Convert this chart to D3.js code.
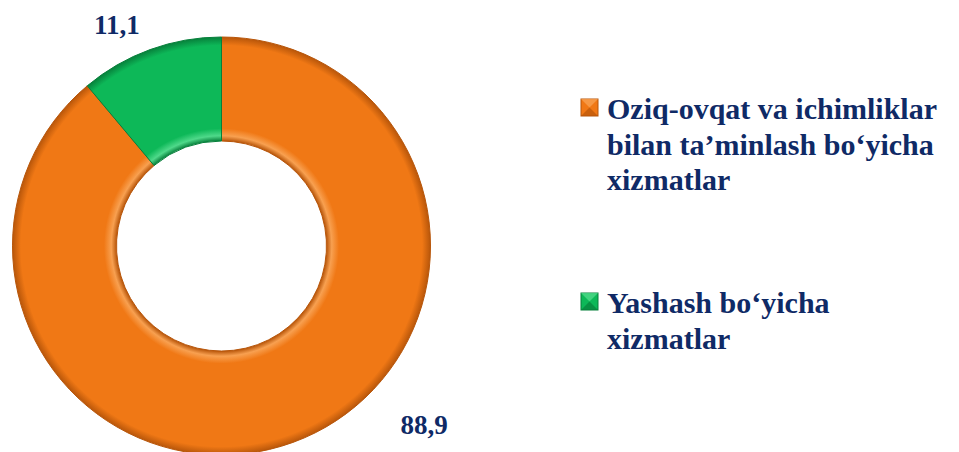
<!DOCTYPE html>
<html><head><meta charset="utf-8">
<script src="https://cdn.jsdelivr.net/npm/d3@7"></script>
</head><body style="margin:0">
<svg id="c" width="959" height="452"></svg>
<script>
const categories = ["Oziq-ovqat va ichimliklar bilan ta\u2019minlash bo\u2018yicha xizmatlar", "Yashash bo\u2018yicha xizmatlar"];
const values = [88.9, 11.1];
const valueLabels = ["88,9", "11,1"];
const legendLines = [["Oziq-ovqat va ichimliklar", "bilan ta\u2019minlash bo\u2018yicha", "xizmatlar"], ["Yashash bo\u2018yicha", "xizmatlar"]];
const colors = ["#F07815", "#0DB858"];
const darkColors = ["#B8560A", "#07803B"];
const lightColors = ["#F8A050", "#4FD98A"];

const svg = d3.select("#c");
const textColor = "#0F2A66";
const cx = 221.5, cy = 246, R = 209, r = 105;

const defs = svg.append("defs");
colors.forEach((c,i)=>{
  const gr = defs.append("radialGradient").attr("id","g"+i).attr("gradientUnits","userSpaceOnUse")
    .attr("cx",0).attr("cy",0).attr("r",R);
  const s = r/R;
  gr.append("stop").attr("offset",s).attr("stop-color",darkColors[i]);
  gr.append("stop").attr("offset",s+0.025).attr("stop-color",lightColors[i]);
  gr.append("stop").attr("offset",s+0.06).attr("stop-color",c);
  gr.append("stop").attr("offset",0.96).attr("stop-color",c);
  gr.append("stop").attr("offset",1).attr("stop-color",darkColors[i]);
});

const pie = d3.pie().sort(null).value(d=>d);
const arcs = pie(values);
const arc = d3.arc().innerRadius(r).outerRadius(R);
const g = svg.append("g").attr("transform",`translate(${cx},${cy})`);
g.selectAll("path").data(arcs).join("path")
  .attr("d",arc)
  .attr("fill",(d,i)=>`url(#g${i})`)
  .attr("stroke",(d,i)=>darkColors[i]).attr("stroke-width",1);

svg.selectAll("text.val").data(valueLabels).join("text").attr("class","val")
  .attr("x",(d,i)=>[424,117][i]).attr("y",(d,i)=>[434,33.5][i])
  .attr("text-anchor","middle")
  .attr("font-family","Liberation Serif").attr("font-weight","bold").attr("font-size",27)
  .attr("fill",textColor).text(d=>d);

const legendY = [119, 313];
const lineH = 35.5;
const lg = svg.selectAll("g.lg").data(categories).join("g").attr("class","lg");
lg.append("rect").attr("x",581).attr("y",(d,i)=>legendY[i]-20).attr("width",17).attr("height",17)
  .attr("fill",(d,i)=>colors[i]).attr("stroke",(d,i)=>darkColors[i]).attr("stroke-width",1);
lg.append("path").attr("d",(d,i)=>{const x=581,y=legendY[i]-20;return `M${x},${y}L${x+8.5},${y+8.5}L${x+17},${y}Z`;})
  .attr("fill",(d,i)=>lightColors[i]).attr("opacity",0.8);
lg.append("path").attr("d",(d,i)=>{const x=581,y=legendY[i]-20;return `M${x},${y+17}L${x+8.5},${y+8.5}L${x+17},${y+17}Z`;})
  .attr("fill",(d,i)=>darkColors[i]).attr("opacity",0.7);
lg.append("text").attr("x",607).attr("y",(d,i)=>legendY[i])
  .attr("font-family","Liberation Serif").attr("font-weight","bold").attr("font-size",30).attr("fill",textColor)
  .selectAll("tspan").data((d,i)=>legendLines[i]).join("tspan")
  .attr("x",607).attr("dy",(d,j)=>j===0?0:lineH).text(d=>d);
</script>
</body></html>
